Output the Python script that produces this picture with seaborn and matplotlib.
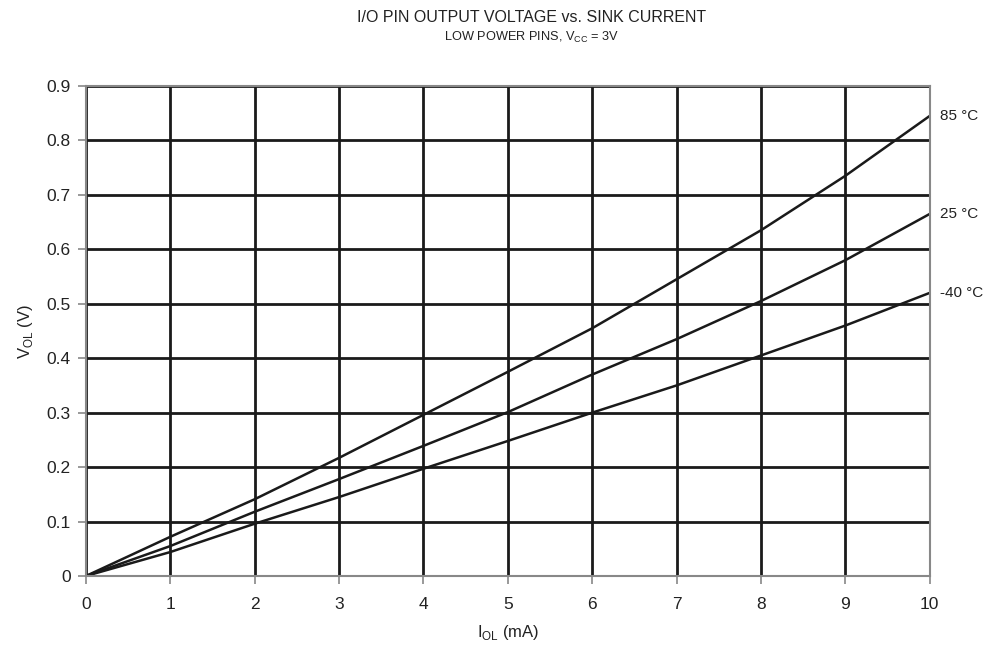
import seaborn as sns
import pandas as pd
import matplotlib.pyplot as plt

current_ma = [0, 1, 2, 3, 4, 5, 6, 7, 8, 9, 10]
vol_85 = [0, 0.072, 0.141, 0.217, 0.296, 0.375, 0.455, 0.545, 0.635, 0.735, 0.845]
vol_25 = [0, 0.055, 0.118, 0.178, 0.239, 0.301, 0.370, 0.435, 0.505, 0.580, 0.665]
vol_m40 = [0, 0.044, 0.096, 0.145, 0.197, 0.248, 0.300, 0.350, 0.405, 0.460, 0.520]
temps = ['85 °C', '25 °C', '-40 °C']

df = pd.DataFrame({
    'current': current_ma * 3,
    'voltage': vol_85 + vol_25 + vol_m40,
    'temp': [temps[0]] * 11 + [temps[1]] * 11 + [temps[2]] * 11,
})

sns.set_style('white')
plt.rcParams['font.family'] = ['Liberation Sans', 'DejaVu Sans']
plt.rcParams['mathtext.fontset'] = 'custom'
plt.rcParams['mathtext.rm'] = 'Liberation Sans'

fig = plt.figure(figsize=(9.88, 6.49), dpi=100)
ax = fig.add_axes([0.087, 0.1125, 0.854, 0.755])

ax = sns.lineplot(data=df, x='current', y='voltage', hue='temp',
                  palette=['#1a1a1a'] * 3, linewidth=1.8, legend=False, ax=ax)

ax.set_xlim(0, 10)
ax.set_ylim(0, 0.9)
ax.set_xticks(range(0, 11))
ax.set_yticks([i / 10 for i in range(10)])
ax.set_yticklabels(['0'] + ['%.1f' % (i / 10) for i in range(1, 10)])
ax.grid(True, color='#1a1a1a', linewidth=2)
ax.set_axisbelow(True)
for s in ax.spines.values():
    s.set_color('#888888')
    s.set_linewidth(1.5)
ax.tick_params(axis='both', bottom=True, left=True, direction='out', length=6,
               width=1.2, color='#888888', labelsize=12.5, labelcolor='#222222', pad=5)
ax.tick_params(axis='x', pad=9)

ax.set_xlabel(r'I$_{\mathregular{OL}}$ (mA)', fontsize=12, color='#222222', labelpad=8)
ax.set_ylabel(r'V$_{\mathregular{OL}}$ (V)', fontsize=12, color='#222222', labelpad=8)

ends = [vol_85[-1], vol_25[-1], vol_m40[-1]]
for t, v in zip(temps, ends):
    ax.text(10.12, v, t, fontsize=11, color='#222222', va='center', ha='left')

fig.text(0.538, 0.973, 'I/O PIN OUTPUT VOLTAGE vs. SINK CURRENT', ha='center', va='center',
         fontsize=11.5, color='#222222')
fig.text(0.538, 0.943, r'LOW POWER PINS, V$_{\mathregular{CC}}$ = 3V', ha='center', va='center',
         fontsize=9.2, color='#222222')

plt.savefig('out.png', dpi=100)
plt.close()
